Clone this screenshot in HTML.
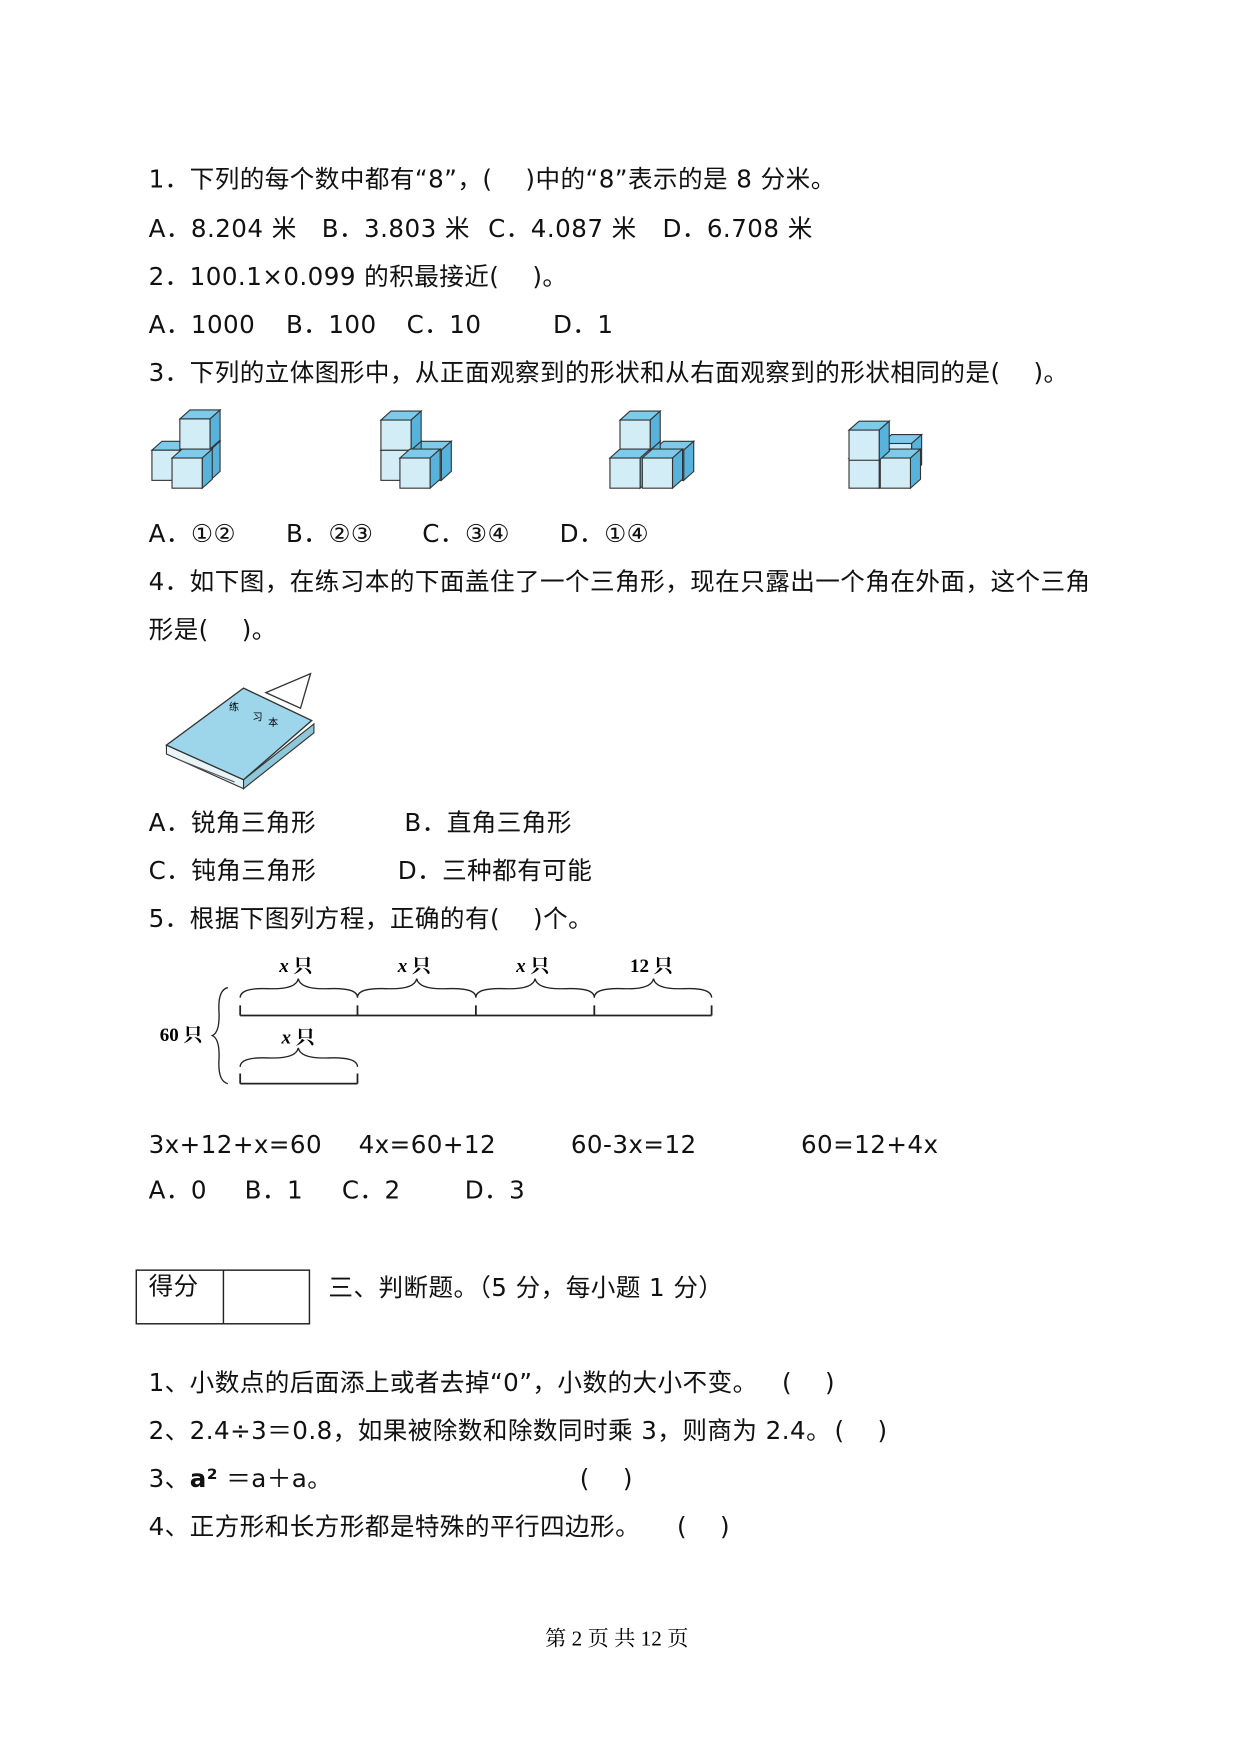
<!DOCTYPE html>
<html><head><meta charset="utf-8"><style>
html,body{margin:0;padding:0;background:#fff;}
body{width:1240px;height:1754px;overflow:hidden;position:relative;}
#w{position:absolute;left:0;top:0;width:1110px;height:1570px;transform:scale(1.11712);transform-origin:0 0;}
.t{position:absolute;font-family:"DejaVu Sans","Noto Sans CJK SC",sans-serif;font-size:22px;letter-spacing:0.4px;line-height:28px;white-space:nowrap;color:#111;}
.f{position:absolute;font-family:"Liberation Serif","Noto Serif CJK SC",serif;font-size:19px;white-space:nowrap;}
svg{position:absolute;left:0;top:0;}
</style></head><body><div id="w">
<div class="t" style="left:133px;top:148px">1．下列的每个数中都有“8”，(&nbsp;&nbsp;&nbsp;&nbsp;)中的“8”表示的是 8 分米。</div>
<div class="t" style="left:133px;top:192px">A．8.204 米</div><div class="t" style="left:288px;top:192px">B．3.803 米</div><div class="t" style="left:437px;top:192px">C．4.087 米</div><div class="t" style="left:593px;top:192px">D．6.708 米</div>
<div class="t" style="left:133px;top:235px">2．100.1×0.099 的积最接近(&nbsp;&nbsp;&nbsp;&nbsp;)。</div>
<div class="t" style="left:133px;top:278px">A．1000</div><div class="t" style="left:256px;top:278px">B．100</div><div class="t" style="left:364px;top:278px">C．10</div><div class="t" style="left:495px;top:278px">D．1</div>
<div class="t" style="left:133px;top:321px">3．下列的立体图形中，从正面观察到的形状和从右面观察到的形状相同的是(&nbsp;&nbsp;&nbsp;&nbsp;)。</div>
<div class="t" style="left:133px;top:465px">A．①②</div><div class="t" style="left:256px;top:465px">B．②③</div><div class="t" style="left:378px;top:465px">C．③④</div><div class="t" style="left:501px;top:465px">D．①④</div>
<div class="t" style="left:133px;top:508px">4．如下图，在练习本的下面盖住了一个三角形，现在只露出一个角在外面，这个三角</div>
<div class="t" style="left:133px;top:551px">形是(&nbsp;&nbsp;&nbsp;&nbsp;)。</div>
<div class="t" style="left:133px;top:724px">A．锐角三角形</div><div class="t" style="left:362px;top:724px">B．直角三角形</div>
<div class="t" style="left:133px;top:767px">C．钝角三角形</div><div class="t" style="left:356px;top:767px">D．三种都有可能</div>
<div class="t" style="left:133px;top:810px">5．根据下图列方程，正确的有(&nbsp;&nbsp;&nbsp;&nbsp;)个。</div>
<div class="t" style="left:133px;top:1012px">3x+12+x=60</div><div class="t" style="left:321px;top:1012px">4x=60+12</div><div class="t" style="left:511px;top:1012px">60-3x=12</div><div class="t" style="left:717px;top:1012px">60=12+4x</div>
<div class="t" style="left:133px;top:1053px">A．0</div><div class="t" style="left:219px;top:1053px">B．1</div><div class="t" style="left:306px;top:1053px">C．2</div><div class="t" style="left:416px;top:1053px">D．3</div>
<div class="t" style="left:133px;top:1139px">得分</div>
<div class="t" style="left:294px;top:1140px">三、判断题。（5 分，每小题 1 分）</div>
<div class="t" style="left:133px;top:1225px">1、小数点的后面添上或者去掉“0”，小数的大小不变。</div><div class="t" style="left:700px;top:1225px">(&nbsp;&nbsp;&nbsp;&nbsp;)</div>
<div class="t" style="left:133px;top:1268px">2、2.4÷3＝0.8，如果被除数和除数同时乘 3，则商为 2.4。</div><div class="t" style="left:747px;top:1268px">(&nbsp;&nbsp;&nbsp;&nbsp;)</div>
<div class="t" style="left:133px;top:1311px">3、<b>a²</b> ＝a＋a。</div><div class="t" style="left:519px;top:1311px">(&nbsp;&nbsp;&nbsp;&nbsp;)</div>
<div class="t" style="left:133px;top:1354px">4、正方形和长方形都是特殊的平行四边形。</div><div class="t" style="left:606px;top:1354px">(&nbsp;&nbsp;&nbsp;&nbsp;)</div>
<div class="f" style="left:488px;top:1452px">第 2 页 共 12 页</div>
<svg width="1110" height="1570" id="s">
<rect x="122" y="1137" width="155" height="48" fill="none" stroke="#222" stroke-width="1.3"/>
<line x1="200" y1="1137" x2="200" y2="1185" stroke="#222" stroke-width="1.3"/>
<polygon points="238,620 278,603 269,634" fill="#fff" stroke="#333" stroke-width="1.2"/>
<polygon points="149,667 218,698 218,706 149,675" fill="#e8f4f8" stroke="#333"/>
<polygon points="218,698 281,648 281,656 218,706" fill="#8ec7d8" stroke="#333"/>
<polygon points="218,616 279,645 218,698 149,667" fill="#9dd6ea" stroke="#333" stroke-width="1.2"/>
<line x1="160" y1="680" x2="210" y2="700" stroke="#555"/>
<text x="205" y="636" font-size="9" font-family="Noto Sans CJK SC">练</text><text x="226" y="645" font-size="9" font-family="Noto Sans CJK SC">习</text><text x="240" y="650" font-size="9" font-family="Noto Sans CJK SC">本</text>
<g fill="none" stroke="#222" stroke-width="1.6">
<path d="M215,909 H637 M215,900 V909 M320,900 V909 M426,900 V909 M532,900 V909 M637,900 V909"/>
<path d="M215,970 H320 M215,961 V970 M320,961 V970"/>
<g stroke-width="1.2">
<path d="M215,893 Q215,884 240,885 Q265,886 267,876 Q269,886 294,885 Q320,884 320,893"/>
<path d="M320,893 Q320,884 346,885 Q371,886 373,876 Q375,886 400,885 Q426,884 426,893"/>
<path d="M426,893 Q426,884 452,885 Q477,886 479,876 Q481,886 506,885 Q532,884 532,893"/>
<path d="M532,893 Q532,884 558,885 Q583,886 585,876 Q587,886 612,885 Q637,884 637,893"/>
<path d="M215,955 Q215,946 240,947 Q265,948 267,938 Q269,948 294,947 Q320,946 320,955"/>
<path d="M204,884 Q195,886 196,905 Q197,924 190,927 Q197,930 196,949 Q195,968 204,970"/>
</g></g>
<g font-family="Liberation Serif,Noto Serif CJK SC,serif" font-size="17" font-weight="bold">
<text x="250" y="870"><tspan font-style="italic">x</tspan> 只</text>
<text x="356" y="870"><tspan font-style="italic">x</tspan> 只</text>
<text x="462" y="870"><tspan font-style="italic">x</tspan> 只</text>
<text x="564" y="870">12 只</text>
<text x="252" y="934"><tspan font-style="italic">x</tspan> 只</text>
<text x="143" y="932">60 只</text>
</g>
</svg>
</div>
<script>
var s=document.getElementById('s'),out='';
function cube(x,y){var a=27,dx=9,dy=-8;
out+='<polygon points="'+x+','+y+' '+(x+dx)+','+(y+dy)+' '+(x+a+dx)+','+(y+dy)+' '+(x+a)+','+y+'" fill="#7ccbea" stroke="#333" stroke-width="1"/>';
out+='<polygon points="'+(x+a)+','+y+' '+(x+a+dx)+','+(y+dy)+' '+(x+a+dx)+','+(y+a+dy)+' '+(x+a)+','+(y+a)+'" fill="#58b3dc" stroke="#333" stroke-width="1"/>';
out+='<rect x="'+x+'" y="'+y+'" width="'+a+'" height="'+a+'" fill="#d3edf7" stroke="#333" stroke-width="1"/>';}
[[136,403],[161,403],[161,375],[154,410],
 [368,403],[341,403],[341,376],[358,410],
 [585,403],[555,403],[555,376],[546,410],[575,410],
 [789,397],[760,410],[788,410],[760,385]].forEach(function(c){cube(c[0],c[1]);});
s.insertAdjacentHTML('beforeend',out);
</script>
</body></html>
